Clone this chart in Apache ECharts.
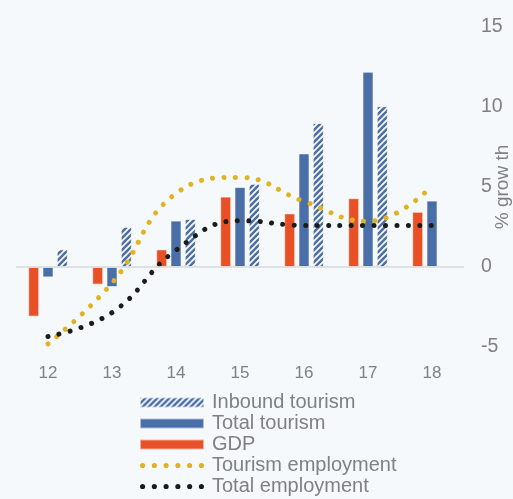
<!DOCTYPE html>
<html>
<head>
<meta charset="utf-8">
<script src="https://cdn.jsdelivr.net/npm/echarts@6/dist/echarts.min.js"></script>
<style>
  html, body { margin: 0; padding: 0; background: #f5f9fc; }
  #chart { width: 513px; height: 499px; }
</style>
</head>
<body>
<div id="chart"></div>
<script>
// Year labels (20xx) along the category axis
const years = ['12', '13', '14', '15', '16', '17', '18'];

// Annual % growth
const gdp = [-3.1, -1.1, 1.1, 4.4, 3.35, 4.3, 3.45];
const totalTourism = [-0.65, -1.25, 2.9, 5.0, 7.1, 12.2, 4.15];
const inboundTourism = [1.1, 2.5, 3.0, 5.2, 9.0, 10.05, null];
const tourismEmployment = [-4.8, -1.0, 4.6, 5.6, 4.1, 2.85, 5.05];
const totalEmployment = [-4.35, -2.85, 1.05, 2.9, 2.6, 2.6, 2.6];

const yTicks = { min: -5, max: 15, step: 5 };

const BLUE = '#4a6fa8';
const ORANGE = '#e85127';
const GOLD = '#e1b323';
const BLACK = '#1b1b1b';
const GREY = '#808080';
const FONT = 'Liberation Sans, Arial, sans-serif';

// Diagonal blue/white stripes for the inbound bars
function stripePattern() {
  const s = 6;
  const c = document.createElement('canvas');
  c.width = s; c.height = s;
  const g = c.getContext('2d');
  g.fillStyle = '#ffffff';
  g.fillRect(0, 0, s, s);
  g.strokeStyle = BLUE;
  g.lineWidth = s / (2 * Math.SQRT2) * 1.2;
  g.beginPath();
  g.moveTo(-s, s); g.lineTo(s, -s);
  g.moveTo(0, s); g.lineTo(s, 0);
  g.moveTo(0, 2 * s); g.lineTo(2 * s, 0);
  g.stroke();
  return { image: c, repeat: 'repeat' };
}

// Legend swatch for the dotted lines: a row of six round dots
function dotRowIcon(count, r, pitch) {
  let d = '';
  for (let i = 0; i < count; i++) {
    const cx = r + i * pitch;
    d += 'M' + (cx - r) + ',' + r + ' a' + r + ',' + r + ' 0 1,0 ' + (2 * r) + ',0 a' + r + ',' + r + ' 0 1,0 ' + (-2 * r) + ',0 ';
  }
  return 'path://' + d;
}

const barBorder = { borderColor: 'rgba(255,255,255,0.55)', borderWidth: 1 };
const dotted = (color) => ({ color: color, width: 5, type: [0.01, 11.4], cap: 'round' });

const chart = echarts.init(document.getElementById('chart'), null, { renderer: 'canvas' });

chart.setOption({
  backgroundColor: '#f5f9fc',
  animation: false,
  textStyle: { fontFamily: FONT },
  grid: { left: 16, right: 49, top: 27, bottom: 152, containLabel: false, outerBoundsMode: 'none' },
  legend: {
    orient: 'vertical',
    left: 139,
    top: 392,
    padding: 0,
    itemGap: 0,
    itemWidth: 64,
    itemHeight: 10,
    symbolKeepAspect: true,
    textStyle: { color: GREY, fontSize: 20, lineHeight: 21, fontFamily: FONT, padding: [0, 0, 0, 3] },
    data: [
      { name: 'Inbound tourism', icon: 'rect' },
      { name: 'Total tourism', icon: 'rect' },
      { name: 'GDP', icon: 'rect' },
      { name: 'Tourism employment', icon: dotRowIcon(6, 2.5, 11.4) },
      { name: 'Total employment', icon: dotRowIcon(6, 2.5, 11.4) }
    ]
  },
  xAxis: {
    type: 'category',
    data: years,
    axisLine: { show: false },
    axisTick: { show: false },
    axisLabel: { color: GREY, fontSize: 17, margin: 18, fontFamily: FONT },
    splitLine: { show: false }
  },
  yAxis: {
    type: 'value',
    position: 'right',
    min: yTicks.min,
    max: yTicks.max,
    interval: yTicks.step,
    axisLine: { show: false },
    axisTick: { show: false },
    splitLine: { show: false },
    axisLabel: { color: GREY, fontSize: 19.5, margin: 17, fontFamily: FONT },
    name: '% grow th',
    nameLocation: 'middle',
    nameRotate: 90,
    nameGap: 29,
    nameMoveOverlap: false,
    nameTextStyle: { color: GREY, fontSize: 19, fontFamily: FONT }
  },
  series: [
    {
      name: 'GDP',
      type: 'bar',
      data: gdp,
      barWidth: 11,
      barGap: '30%',
      itemStyle: Object.assign({ color: ORANGE }, barBorder),
      markLine: {
        silent: true,
        symbol: 'none',
        label: { show: false },
        lineStyle: { color: '#d9d9d9', width: 1.5, type: 'solid' },
        data: [{ yAxis: 0 }]
      },
      z: 2
    },
    {
      name: 'Total tourism',
      type: 'bar',
      data: totalTourism,
      barWidth: 11,
      barGap: '30%',
      itemStyle: Object.assign({ color: BLUE }, barBorder),
      z: 2
    },
    {
      name: 'Inbound tourism',
      type: 'bar',
      data: inboundTourism,
      barWidth: 11,
      barGap: '30%',
      itemStyle: Object.assign({ color: stripePattern() }, barBorder),
      z: 2
    },
    {
      name: 'Tourism employment',
      type: 'line',
      data: tourismEmployment,
      smooth: 0.45,
      showSymbol: false,
      symbol: 'none',
      lineStyle: dotted(GOLD),
      itemStyle: { color: GOLD },
      z: 3
    },
    {
      name: 'Total employment',
      type: 'line',
      data: totalEmployment,
      smooth: 0.45,
      showSymbol: false,
      symbol: 'none',
      lineStyle: dotted(BLACK),
      itemStyle: { color: BLACK },
      z: 4
    }
  ]
});
</script>
</body>
</html>
